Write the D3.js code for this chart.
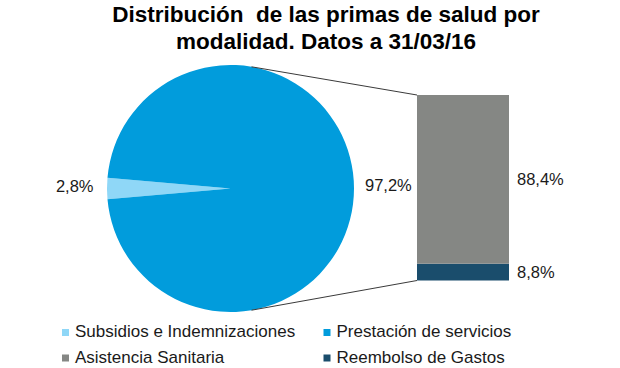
<!DOCTYPE html>
<html><head><meta charset="utf-8">
<script src="https://cdn.jsdelivr.net/npm/d3@7"></script>
<style>body{margin:0;background:#fff;}svg{display:block;font-family:"Liberation Sans",Arial,sans-serif;}</style>
</head><body><svg id="c" width="620" height="368"></svg>
<script>
const title = ["Distribución  de las primas de salud por", "modalidad. Datos a 31/03/16"];
const pieCategories = ["Subsidios e Indemnizaciones", "Prestación de servicios"];
const pieValues = [2.8, 97.2];
const pieLabels = ["2,8%", "97,2%"];
const barCategories = ["Asistencia Sanitaria", "Reembolso de Gastos"];
const barValues = [88.4, 8.8];
const barLabels = ["88,4%", "8,8%"];
const colors = {
  "Subsidios e Indemnizaciones": "#8fd7f7",
  "Prestación de servicios": "#019cdc",
  "Asistencia Sanitaria": "#858784",
  "Reembolso de Gastos": "#1a4d6c"
};

const svg = d3.select("#c");
svg.append("text").attr("text-anchor", "middle").attr("font-weight", "bold")
  .attr("font-size", 22.5).attr("fill", "#000").style("white-space", "pre")
  .selectAll("tspan").data(title).join("tspan")
  .attr("x", 326).attr("y", (d, i) => 22 + i * 26.5).text(d => d);

const cx = 230.5, cy = 188.5, r = 123.5;
const smallAngle = pieValues[0] / d3.sum(pieValues) * 2 * Math.PI;
const start = 1.5 * Math.PI - smallAngle / 2;
const pie = d3.pie().sort(null).startAngle(start).endAngle(start + 2 * Math.PI);
const arcs = pie(pieValues);
const arc = d3.arc().innerRadius(0).outerRadius(r);
const g = svg.append("g").attr("transform", `translate(${cx},${cy})`);
g.selectAll("path").data(arcs).join("path").attr("d", arc)
  .attr("fill", (d, i) => colors[pieCategories[i]]);

// bar of pie
const bx = 417, bw = 92, btop = 95, bbot = 280.5;
const y = d3.scaleLinear().domain([0, d3.sum(barValues)]).range([bbot, btop]);
const order = [1, 0]; // Reembolso at bottom, Asistencia on top
let cum = 0;
const segs = order.map(i => { const s = { i, y0: cum, y1: cum + barValues[i] }; cum += barValues[i]; return s; });
svg.selectAll("rect.seg").data(segs).join("rect").attr("class", "seg")
  .attr("x", bx).attr("width", bw)
  .attr("y", d => y(d.y1)).attr("height", d => y(d.y0) - y(d.y1))
  .attr("fill", d => colors[barCategories[d.i]]);

// connector lines (from pie edge to bar corners)
const off = 21, dy = Math.sqrt(r * r - off * off);
svg.append("line").attr("x1", cx + off).attr("y1", cy - dy).attr("x2", bx).attr("y2", btop)
  .attr("stroke", "#3a3a3a").attr("stroke-width", 1);
svg.append("line").attr("x1", cx + off).attr("y1", cy + dy).attr("x2", bx).attr("y2", bbot)
  .attr("stroke", "#3a3a3a").attr("stroke-width", 1);

// labels
const lab = (x, yy, t, anchor) => svg.append("text").attr("x", x).attr("y", yy)
  .attr("text-anchor", anchor || "start").attr("font-size", 16.5).attr("fill", "#1a1a1a").text(t);
lab(93.5, 192, pieLabels[0], "end");
lab(365, 191, pieLabels[1]);
segs.forEach(d => {
  const mid = (y(d.y0) + y(d.y1)) / 2;
  lab(517, mid + 6, barLabels[d.i]);
});

// legend
const legend = [
  { name: pieCategories[0], x: 62, y: 337 },
  { name: pieCategories[1], x: 323.5, y: 337 },
  { name: barCategories[0], x: 62, y: 362.5 },
  { name: barCategories[1], x: 323.5, y: 362.5 }
];
const lg = svg.selectAll("g.lg").data(legend).join("g").attr("class", "lg")
  .attr("transform", d => `translate(${d.x},${d.y})`);
lg.append("rect").attr("x", 0).attr("y", -8).attr("width", 7).attr("height", 7)
  .attr("fill", d => colors[d.name]);
lg.append("text").attr("x", 13).attr("y", 0).attr("font-size", 17).attr("fill", "#1a1a1a").text(d => d.name);
</script></body></html>
